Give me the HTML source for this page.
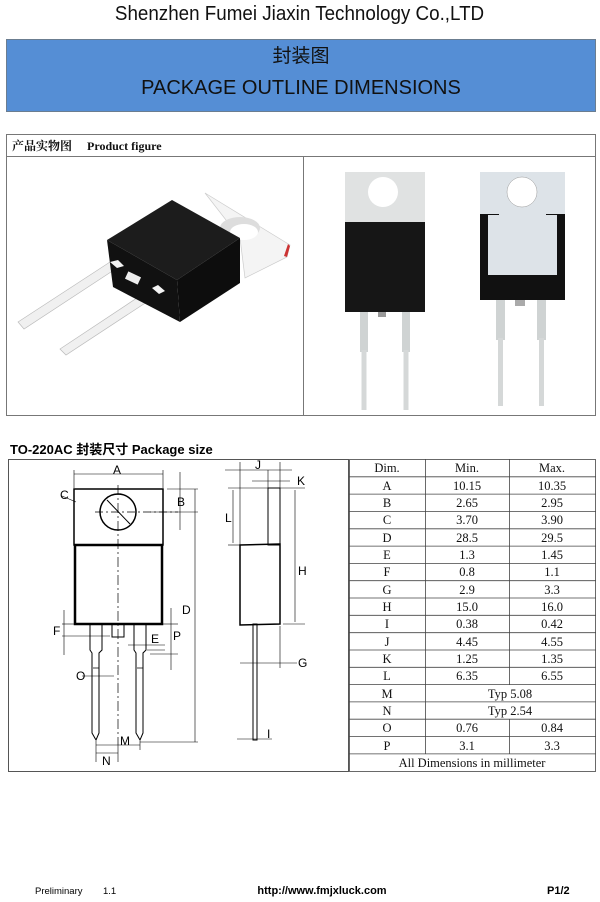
<!DOCTYPE html>
<html><head><meta charset="utf-8"><style>
body{margin:0;width:600px;height:902px;background:#fff;position:relative;overflow:hidden;font-family:"Liberation Sans","Noto Sans CJK SC",sans-serif}
.a{position:absolute}
</style></head><body>
<div class="a" style="left:0;top:3px;width:600px;text-align:center;font-size:20px;color:#111;transform:scaleX(0.94);transform-origin:292px 0">Shenzhen Fumei Jiaxin Technology Co.,LTD</div>
<div class="a" style="left:6px;top:39px;width:588px;height:71px;background:#558ed5;border:1px solid #6b7d90;text-align:center;color:#111">
<div style="font-size:19px;margin-top:5px;line-height:24px">封装图</div>
<div style="font-size:20px;margin-top:6px;line-height:26px">PACKAGE OUTLINE DIMENSIONS</div>
</div>
<svg class="a" style="left:0;top:0" width="600" height="902" xmlns="http://www.w3.org/2000/svg">
<rect x="6.5" y="134.5" width="589" height="281" fill="none" stroke="#777" stroke-width="1"/>
<line x1="6" y1="156.5" x2="596" y2="156.5" stroke="#777"/>
<line x1="303.5" y1="156" x2="303.5" y2="416" stroke="#777"/>
<text x="12" y="150" font-family="Liberation Serif,Noto Serif CJK SC,serif" font-size="12" font-weight="bold" fill="#111">产品实物图　 Product figure</text>
<polygon points="205,193 290,245 287,257 245,278 240,238" fill="#f4f4f4" stroke="#ccc" stroke-width="0.7"/>
<polygon points="288,244 290,246 287,257 284,256" fill="#c33"/>
<ellipse cx="240" cy="228" rx="20" ry="11" fill="#ddd"/>
<ellipse cx="244" cy="232" rx="14" ry="8" fill="#fff"/>
<polygon points="18,322 110,262 117,268 24,329" fill="#f0f0f0" stroke="#bbb" stroke-width="0.7"/>
<polygon points="60,349 152,288 159,294 66,355" fill="#f0f0f0" stroke="#bbb" stroke-width="0.7"/>
<polygon points="172,200 240,238 177,280 107,240" fill="#1c1c1c"/>
<polygon points="107,240 177,280 180,322 113,287" fill="#111"/>
<polygon points="177,280 240,238 240,283 180,322" fill="#0d0d0d"/>
<polygon points="110,262 117,268 124,266 118,260" fill="#f4f4f4"/>
<rect x="126" y="274" width="14" height="8" fill="#eee" transform="rotate(25 133 278)"/>
<polygon points="152,288 159,294 165,291 158,285" fill="#f4f4f4"/>
<rect x="345" y="172" width="80" height="52" fill="#e0e2e2"/>
<circle cx="383" cy="192" r="15" fill="#fff"/>
<rect x="345" y="222" width="80" height="90" fill="#161616"/>
<rect x="378" y="312" width="8" height="5" fill="#999"/>
<rect x="360" y="312" width="8" height="40" fill="#cfd3d3"/>
<rect x="361.5" y="350" width="5" height="60" fill="#d5d8d8"/>
<rect x="402" y="312" width="8" height="40" fill="#cfd3d3"/>
<rect x="403.5" y="350" width="5" height="60" fill="#d5d8d8"/>
<rect x="480" y="172" width="85" height="128" fill="#111"/>
<rect x="480" y="172" width="85" height="36" fill="#dde3e8"/>
<rect x="480" y="172" width="20" height="42" fill="#dde3e8"/>
<rect x="545" y="172" width="20" height="42" fill="#dde3e8"/>
<rect x="488" y="215" width="69" height="60" fill="#dde3e8"/>
<rect x="499" y="208" width="47" height="10" fill="#dde3e8"/>
<circle cx="522" cy="192" r="15" fill="#fff" stroke="#999" stroke-width="0.5"/>
<rect x="496" y="300" width="9" height="40" fill="#cfd3d3"/>
<rect x="498" y="338" width="5" height="68" fill="#d5d8d8"/>
<rect x="537" y="300" width="9" height="40" fill="#cfd3d3"/>
<rect x="539" y="338" width="5" height="68" fill="#d5d8d8"/>
<rect x="515" y="300" width="10" height="6" fill="#aaa"/>

<text x="10" y="454" font-size="13" font-weight="bold" fill="#000" font-family="Liberation Sans,Noto Sans CJK SC,sans-serif">TO-220AC  封装尺寸 Package size</text>
<rect x="8.5" y="459.5" width="340" height="312" fill="none" stroke="#555"/>
<g stroke="#000" fill="none" stroke-width="1">
<rect x="74" y="489" width="89" height="56" stroke-width="1.5"/>
<rect x="75" y="545" width="87" height="79" stroke-width="2.5"/>
<circle cx="118" cy="512" r="18" stroke-width="1.5"/>
<line x1="107" y1="500" x2="130" y2="524"/>
<line x1="118" y1="485" x2="118" y2="745" stroke-dasharray="10,3,2,3" stroke-width="0.7"/>
<line x1="95" y1="512" x2="178" y2="512" stroke-dasharray="8,3,2,3" stroke-width="0.7"/>
<path d="M90 624 V650 L92 653 V733 L96 740 L99 733 V653 L102 650 V624"/>
<path d="M134 624 V650 L136 653 V733 L140 740 L143 733 V653 L146 650 V624"/>
<path d="M93 668 H99 M137 668 H143" stroke-width="0.7"/>
<rect x="112" y="624" width="12" height="13"/>
<rect x="268" y="488" width="12" height="57"/>
<path d="M240 545 L280 544 V624 L240 625 Z" stroke-width="1.5"/>
<rect x="253" y="624" width="4" height="116"/>
</g>
<g stroke="#000" stroke-width="0.6" fill="none">
<line x1="74" y1="470" x2="74" y2="488"/><line x1="163" y1="470" x2="163" y2="488"/><line x1="74" y1="474" x2="163" y2="474"/>
<line x1="167" y1="489" x2="198" y2="489"/><line x1="150" y1="512" x2="198" y2="512"/><line x1="180" y1="472" x2="180" y2="530"/>
<line x1="62" y1="496" x2="76" y2="502"/>
<line x1="195" y1="489" x2="195" y2="742"/><line x1="140" y1="742" x2="198" y2="742"/>
<line x1="62" y1="624" x2="75" y2="624"/><line x1="62" y1="636" x2="110" y2="636"/><line x1="64" y1="610" x2="64" y2="655"/>
<line x1="128" y1="645" x2="165" y2="645"/><line x1="147" y1="650" x2="165" y2="650"/>
<line x1="162" y1="624" x2="178" y2="624"/><line x1="150" y1="654" x2="178" y2="654"/><line x1="171" y1="608" x2="171" y2="670"/>
<line x1="82" y1="676" x2="114" y2="676"/>
<line x1="96" y1="741" x2="96" y2="762"/><line x1="118" y1="745" x2="118" y2="762"/><line x1="140" y1="741" x2="140" y2="750"/>
<line x1="96" y1="745" x2="140" y2="745"/><line x1="96" y1="753" x2="118" y2="753"/>
<line x1="240" y1="462" x2="240" y2="545"/><line x1="280" y1="462" x2="280" y2="488"/><line x1="268" y1="470" x2="268" y2="488"/>
<line x1="225" y1="470" x2="292" y2="470"/><line x1="252" y1="481" x2="290" y2="481"/>
<line x1="228" y1="488" x2="305" y2="488"/><line x1="228" y1="545" x2="240" y2="545"/><line x1="233" y1="490" x2="233" y2="543"/>
<line x1="283" y1="624" x2="305" y2="624"/><line x1="295" y1="490" x2="295" y2="622"/>
<line x1="280" y1="626" x2="280" y2="668"/><line x1="240" y1="663" x2="297" y2="663"/>
<line x1="237" y1="739" x2="272" y2="739"/>
</g>
<g font-family="Liberation Sans,sans-serif" font-size="12" fill="#000">
<text x="113" y="474">A</text><text x="177" y="506">B</text><text x="60" y="499">C</text>
<text x="182" y="614">D</text><text x="151" y="643">E</text><text x="53" y="635">F</text>
<text x="173" y="640">P</text><text x="76" y="680">O</text><text x="120" y="745">M</text>
<text x="102" y="765">N</text><text x="255" y="469">J</text><text x="297" y="485">K</text>
<text x="225" y="522">L</text><text x="298" y="575">H</text><text x="298" y="667">G</text><text x="267" y="738">I</text>
</g>
<g stroke="#444" stroke-width="0.8" fill="none">
<rect x="349.5" y="459.5" width="246" height="312"/>
<line x1="425.5" y1="459" x2="425.5" y2="754"/>
<line x1="509.5" y1="459" x2="509.5" y2="685"/><line x1="509.5" y1="719" x2="509.5" y2="754"/>
<line x1="349" y1="476.8" x2="596" y2="476.8"/><line x1="349" y1="494.1" x2="596" y2="494.1"/><line x1="349" y1="511.4" x2="596" y2="511.4"/><line x1="349" y1="528.8" x2="596" y2="528.8"/><line x1="349" y1="546.1" x2="596" y2="546.1"/><line x1="349" y1="563.4" x2="596" y2="563.4"/><line x1="349" y1="580.7" x2="596" y2="580.7"/><line x1="349" y1="598" x2="596" y2="598"/><line x1="349" y1="615.3" x2="596" y2="615.3"/><line x1="349" y1="632.7" x2="596" y2="632.7"/><line x1="349" y1="650" x2="596" y2="650"/><line x1="349" y1="667.3" x2="596" y2="667.3"/><line x1="349" y1="684.6" x2="596" y2="684.6"/><line x1="349" y1="701.9" x2="596" y2="701.9"/><line x1="349" y1="719.2" x2="596" y2="719.2"/><line x1="349" y1="736.6" x2="596" y2="736.6"/><line x1="349" y1="753.9" x2="596" y2="753.9"/>
</g>
<g font-family="Liberation Serif,serif" font-size="12.5" fill="#111" text-anchor="middle">
<text x="387" y="472">Dim.</text><text x="467" y="472">Min.</text><text x="552" y="472">Max.</text>
<text x="387" y="490">A</text><text x="467" y="490">10.15</text><text x="552" y="490">10.35</text>
<text x="387" y="507">B</text><text x="467" y="507">2.65</text><text x="552" y="507">2.95</text>
<text x="387" y="524">C</text><text x="467" y="524">3.70</text><text x="552" y="524">3.90</text>
<text x="387" y="542">D</text><text x="467" y="542">28.5</text><text x="552" y="542">29.5</text>
<text x="387" y="559">E</text><text x="467" y="559">1.3</text><text x="552" y="559">1.45</text>
<text x="387" y="576">F</text><text x="467" y="576">0.8</text><text x="552" y="576">1.1</text>
<text x="387" y="594">G</text><text x="467" y="594">2.9</text><text x="552" y="594">3.3</text>
<text x="387" y="611">H</text><text x="467" y="611">15.0</text><text x="552" y="611">16.0</text>
<text x="387" y="628">I</text><text x="467" y="628">0.38</text><text x="552" y="628">0.42</text>
<text x="387" y="646">J</text><text x="467" y="646">4.45</text><text x="552" y="646">4.55</text>
<text x="387" y="663">K</text><text x="467" y="663">1.25</text><text x="552" y="663">1.35</text>
<text x="387" y="680">L</text><text x="467" y="680">6.35</text><text x="552" y="680">6.55</text>
<text x="387" y="698">M</text><text x="510" y="698">Typ 5.08</text>
<text x="387" y="715">N</text><text x="510" y="715">Typ 2.54</text>
<text x="387" y="732">O</text><text x="467" y="732">0.76</text><text x="552" y="732">0.84</text>
<text x="387" y="750">P</text><text x="467" y="750">3.1</text><text x="552" y="750">3.3</text>
<text x="472" y="767">All Dimensions in millimeter</text>
</g>
<g font-family="Liberation Sans,sans-serif" fill="#000">
<text x="35" y="894" font-size="9.5">Preliminary</text><text x="103" y="894" font-size="9.5">1.1</text>
<text x="322" y="894" font-size="11" font-weight="bold" text-anchor="middle">http://www.fmjxluck.com</text>
<text x="547" y="894" font-size="11" font-weight="bold">P1/2</text>
</g>
</svg>
</body></html>
